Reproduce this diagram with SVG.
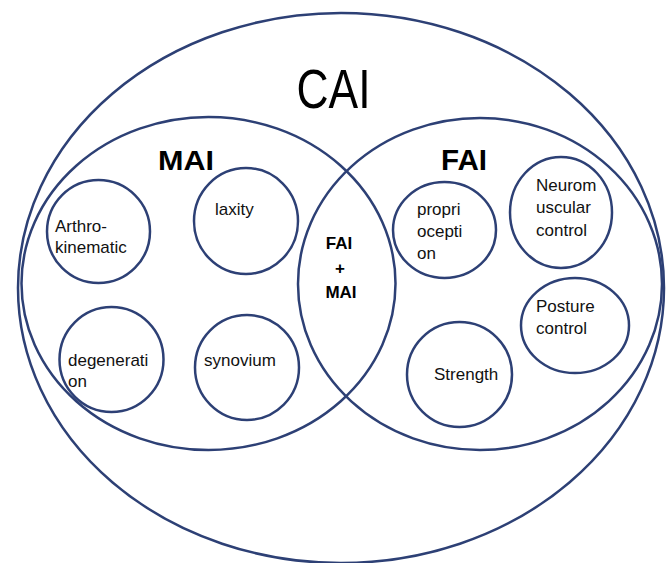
<svg xmlns="http://www.w3.org/2000/svg" width="670" height="563" viewBox="0 0 670 563">
<style>
.ring{fill:none;stroke:#2d4075;stroke-width:2.5}
.lbl{font-family:"Liberation Sans",Arial,sans-serif;font-size:17px;fill:#111}
.big{font-family:"Liberation Sans",Arial,sans-serif;fill:#000}
.bold{font-family:"Liberation Sans",Arial,sans-serif;font-weight:bold;fill:#000}
</style>
<rect width="670" height="563" fill="#fff"/>
<g id="CAI">
<ellipse class="ring" cx="341" cy="288" rx="323" ry="275"/>
<text class="big" x="333.5" y="108" font-size="55" text-anchor="middle" textLength="74" lengthAdjust="spacingAndGlyphs">CAI</text>
</g>
<g id="MAI">
<ellipse class="ring" cx="208.5" cy="283.5" rx="187" ry="166.5"/>
<text class="bold" x="186" y="170" font-size="28" text-anchor="middle" textLength="56" lengthAdjust="spacingAndGlyphs">MAI</text>
</g>
<g id="FAI">
<ellipse class="ring" cx="480" cy="284" rx="182" ry="166"/>
<text class="bold" x="464" y="170" font-size="29" text-anchor="middle" textLength="46" lengthAdjust="spacingAndGlyphs">FAI</text>
</g>
<g id="FAI_MAI">
<text class="bold" font-size="17" text-anchor="middle"><tspan x="339" y="249">FAI</tspan><tspan x="340" y="274">+</tspan><tspan x="341" y="298">MAI</tspan></text>
</g>
<g id="arthrokinematic">
<ellipse class="ring" cx="98.5" cy="231.5" rx="51.5" ry="51.5"/>
<text class="lbl"><tspan x="55" y="232">Arthro-</tspan><tspan x="55" y="253">kinematic</tspan></text>
</g>
<g id="laxity">
<ellipse class="ring" cx="246" cy="221" rx="52" ry="53"/>
<text class="lbl" x="215" y="215">laxity</text>
</g>
<g id="degeneration">
<ellipse class="ring" cx="111.5" cy="359.5" rx="52" ry="52.5"/>
<text class="lbl"><tspan x="68" y="366">degenerati</tspan><tspan x="68" y="387">on</tspan></text>
</g>
<g id="synovium">
<ellipse class="ring" cx="247" cy="367.5" rx="52" ry="52.5"/>
<text class="lbl" x="204" y="366">synovium</text>
</g>
<g id="proprioception">
<ellipse class="ring" cx="444.5" cy="230" rx="51.5" ry="48"/>
<text class="lbl"><tspan x="417" y="215">propri</tspan><tspan x="417" y="237">ocepti</tspan><tspan x="417" y="259">on</tspan></text>
</g>
<g id="neuromuscular">
<ellipse class="ring" cx="561" cy="212.5" rx="51" ry="55.5"/>
<text class="lbl"><tspan x="536" y="191">Neurom</tspan><tspan x="536" y="213">uscular</tspan><tspan x="536" y="236">control</tspan></text>
</g>
<g id="posture">
<ellipse class="ring" cx="575" cy="325.5" rx="54" ry="47.5"/>
<text class="lbl"><tspan x="536" y="312">Posture</tspan><tspan x="536" y="334">control</tspan></text>
</g>
<g id="strength">
<ellipse class="ring" cx="459.5" cy="374.5" rx="52.5" ry="52.5"/>
<text class="lbl" x="434" y="380">Strength</text>
</g>
</svg>
